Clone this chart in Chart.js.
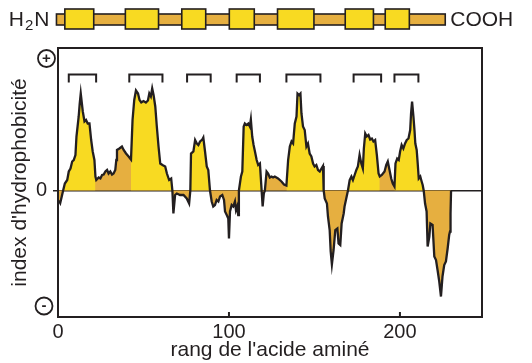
<!DOCTYPE html>
<html>
<head>
<meta charset="utf-8">
<script src="https://cdn.jsdelivr.net/npm/chart.js@4.4.0/dist/chart.umd.min.js"></script>
<style>
  html, body { margin: 0; padding: 0; background: #fff; }
  #wrap { width: 532px; height: 363px; }
</style>
</head>
<body>
<div id="wrap"><canvas id="hydroChart"></canvas></div>
<script>
// amino acid rank (x) and hydrophobicity index (y)
const residue = [
	0.5, 1.3, 2.2, 3.0, 4.0, 5.4, 6.3, 7.3, 8.3, 9.2, 10.2, 10.8, 12.1, 12.7, 13.3, 14.5, 15.5, 16.4, 17.4, 18.4,
	19.4, 20.3, 21.3, 21.9, 22.4, 23.8, 24.8, 25.8, 26.7, 27.7, 28.7, 29.6, 30.6, 31.6, 32.5, 33.5, 34.1, 34.5, 35.9, 37.4,
	38.4, 39.8, 41.3, 42.7, 43.6, 44.6, 45.6, 46.8, 47.7, 48.7, 50.0, 51.4, 52.6, 53.4, 54.3, 55.1, 55.9, 56.9, 57.8, 58.8,
	59.8, 61.1, 62.7, 63.7, 65.0, 66.2, 66.9, 67.5, 68.5, 69.5, 71.4, 73.4, 75.3, 76.7, 77.4, 77.8, 79.2, 80.2, 81.2, 82.1,
	83.1, 84.4, 85.0, 86.0, 87.0, 87.9, 88.9, 89.9, 90.8, 91.8, 92.8, 93.8, 94.8, 96.1, 97.1, 97.7, 98.7, 99.6, 100.0, 100.6,
	101.6, 102.5, 103.5, 104.1, 104.8, 105.4, 105.8, 107.0, 107.8, 108.6, 109.3, 110.3, 111.3, 112.2, 112.8, 113.6, 114.4, 115.2, 116.2, 117.1,
	118.1, 119.1, 119.7, 120.4, 121.0, 122.0, 122.9, 123.9, 124.9, 125.8, 126.8, 128.7, 130.7, 132.2, 133.6, 134.6, 135.6, 136.6, 137.5, 138.5,
	139.5, 140.1, 141.0, 141.8, 142.4, 143.3, 144.3, 145.3, 146.2, 147.2, 148.2, 149.2, 150.1, 151.1, 152.1, 153.1, 154.1, 155.0, 155.4, 156.0,
	157.3, 157.9, 158.9, 159.5, 160.2, 161.2, 162.2, 163.4, 164.1, 165.1, 165.9, 167.1, 167.6, 168.6, 169.6, 170.6, 171.6, 172.5, 173.5, 174.5,
	175.4, 176.4, 177.4, 178.3, 178.9, 179.7, 180.6, 181.6, 182.6, 183.6, 184.5, 185.5, 186.5, 187.5, 188.2, 189.4, 191.0, 192.0, 192.9, 193.9,
	194.9, 195.8, 196.8, 197.4, 198.4, 199.3, 200.1, 201.0, 202.0, 203.0, 204.0, 205.0, 206.0, 206.5, 207.1, 207.9, 208.5, 209.0, 209.8, 210.4,
	211.0, 211.9, 212.7, 213.3, 213.9, 214.7, 215.6, 216.2, 217.2, 217.8, 219.1, 220.1, 221.1, 222.0, 223.0, 224.0, 224.9, 225.9, 226.9, 227.9,
	228.8, 229.3, 229.6, 229.9
];
const hydro = [
	-0.20, -0.25, -0.12, 0.00, 0.14, 0.21, 0.38, 0.44, 0.58, 0.61, 0.71, 1.08, 1.48, 1.74, 1.94, 1.58, 1.38, 1.41, 1.34, 1.34,
	1.01, 0.78, 0.61, 0.28, 0.21, 0.26, 0.24, 0.31, 0.32, 0.38, 0.41, 0.34, 0.38, 0.32, 0.34, 0.41, 0.61, 0.81, 0.84, 0.88,
	0.81, 0.74, 0.68, 0.62, 1.41, 1.81, 2.00, 1.94, 1.81, 1.76, 1.79, 1.76, 1.80, 1.94, 1.88, 2.04, 1.91, 1.68, 1.28, 0.88,
	0.54, 0.51, 0.48, 0.34, 0.21, 0.24, 0.00, -0.46, -0.09, -0.06, -0.09, -0.09, -0.16, -0.26, 0.00, 0.74, 0.78, 1.01, 0.94, 0.91,
	0.98, 1.02, 1.06, 0.78, 0.48, 0.41, 0.00, -0.22, -0.32, -0.29, -0.19, -0.22, -0.12, -0.09, -0.19, -0.42, -0.49, -0.56, -0.96, -0.42,
	-0.29, -0.32, -0.22, -0.39, -0.32, -0.49, 0.00, 0.28, 0.38, 1.28, 1.34, 1.31, 1.34, 1.28, 1.42, 1.08, 0.91, 0.78, 0.61, 0.51,
	0.54, 0.00, -0.32, -0.06, 0.00, 0.38, 0.34, 0.26, 0.28, 0.26, 0.28, 0.24, 0.18, 0.12, 0.10, 0.61, 0.88, 0.98, 0.94, 1.34,
	1.48, 1.94, 1.91, 1.94, 1.54, 1.28, 1.21, 0.88, 0.94, 0.74, 0.68, 0.54, 0.48, 0.51, 0.41, 0.38, 0.44, 0.49, 0.00, -0.16,
	-0.26, -0.52, -0.79, -1.22, -1.48, -1.19, -0.79, -0.76, -1.06, -1.09, -0.66, -0.46, -0.32, -0.16, 0.00, 0.21, 0.28, 0.21, 0.31, 0.41,
	0.48, 0.71, 0.54, 0.44, 0.84, 1.14, 1.08, 1.11, 1.02, 1.04, 0.98, 1.01, 0.71, 0.34, 0.28, 0.31, 0.38, 0.51, 0.58, 0.41,
	0.24, 0.14, 0.08, 0.54, 0.64, 0.61, 0.78, 0.91, 0.84, 0.94, 1.01, 1.04, 1.21, 1.54, 1.78, 1.48, 1.21, 0.94, 0.81, 0.54,
	0.24, 0.28, 0.18, 0.11, 0.00, -0.26, -0.42, -1.12, -0.92, -0.66, -0.69, -1.32, -1.39, -1.59, -1.82, -2.12, -1.72, -1.49, -1.42, -1.16,
	-0.89, -0.82, -0.46, 0.00
];
// stretches of the profile filled yellow (hydrophobic segments)
const helixFill = [[3.0, 21.9], [42.7, 66.9], [77.4, 88.9], [105.8, 119.1], [133.6, 155.4], [169.6, 188.2], [196.8, 213.9]];
// brackets drawn over the peaks
const helixBrackets = [[6.3, 22.3], [41.7, 61.1], [75.5, 89.3], [104.5, 118.1], [133.6, 153.5], [172.9, 189.0], [196.8, 210.8]];
// protein schematic: chain and the yellow boxes, in residues
const chainSpan = [-0.9, 226.5];
const helixBoxes = [[4.0, 20.9], [39.4, 58.8], [72.4, 86.4], [100.2, 114.8], [128.4, 149.7], [168.0, 184.5], [191.4, 205.5]];
// tick labels
const xTicks = [0, 100, 200];
const yTicks = [0];

const INK = '#231f20';
const YELLOW = '#f8da22';
const ORANGE = '#e6af40';
const FONT = '"Liberation Sans", Arial, sans-serif';

const points = residue.map((r, i) => ({x: r, y: hydro[i]}));
const inHelix = r => helixFill.some(([a, b]) => r >= a && r <= b);
const helixPoints = residue.map((r, i) => ({x: r, y: inHelix(r) ? hydro[i] : null}));

// frame, brackets, protein schematic, circled signs
const decorations = {
	id: 'decorations',
	afterDraw(chart) {
		const {ctx, chartArea: a, scales: {x, y}} = chart;
		ctx.save();
		ctx.strokeStyle = INK;
		ctx.lineWidth = 2;
		ctx.strokeRect(a.left, a.top, a.right - a.left, a.bottom - a.top);

		// inward ticks on the x axis
		ctx.beginPath();
		xTicks.forEach(v => {
			const px = x.getPixelForValue(v);
			ctx.moveTo(px, a.bottom);
			ctx.lineTo(px, a.bottom - 5);
		});
		ctx.stroke();

		// brackets
		const by = y.getPixelForValue(2.32), bl = y.getPixelForValue(2.16);
		ctx.beginPath();
		helixBrackets.forEach(([s, e]) => {
			const x0 = x.getPixelForValue(s), x1 = x.getPixelForValue(e);
			ctx.moveTo(x0, bl);
			ctx.lineTo(x0, by);
			ctx.lineTo(x1, by);
			ctx.lineTo(x1, bl);
		});
		ctx.stroke();

		// protein schematic
		ctx.lineWidth = 1.6;
		const c0 = x.getPixelForValue(chainSpan[0]), c1 = x.getPixelForValue(chainSpan[1]);
		const barTop = a.top - 34, barH = 11;
		ctx.fillStyle = ORANGE;
		ctx.fillRect(c0, barTop, c1 - c0, barH);
		ctx.strokeRect(c0, barTop, c1 - c0, barH);
		helixBoxes.forEach(([s, e]) => {
			const x0 = x.getPixelForValue(s), x1 = x.getPixelForValue(e);
			ctx.fillStyle = YELLOW;
			ctx.fillRect(x0, a.top - 39, x1 - x0, 20);
			ctx.strokeRect(x0, a.top - 39, x1 - x0, 20);
		});

		ctx.fillStyle = INK;
		ctx.textBaseline = 'alphabetic';
		const base = a.top - 22;
		ctx.font = '21px ' + FONT;
		ctx.textAlign = 'left';
		ctx.fillText('COOH', c1 + 5, base);
		ctx.textAlign = 'right';
		let rx = c0 - 7;
		ctx.fillText('N', rx, base);
		rx -= ctx.measureText('N').width + 1;
		ctx.font = '15px ' + FONT;
		ctx.fillText('2', rx, base + 4);
		rx -= ctx.measureText('2').width + 1;
		ctx.font = '21px ' + FONT;
		ctx.fillText('H', rx, base);

		// circled + and -
		ctx.lineWidth = 1.8;
		ctx.textAlign = 'center';
		ctx.textBaseline = 'middle';
		ctx.font = 'bold 15px ' + FONT;
		[['+', a.left - 11.5, a.top + 10.5], ['-', a.left - 14, a.bottom - 11]].forEach(([t, cx, cy]) => {
			ctx.beginPath();
			ctx.arc(cx, cy, 8.5, 0, Math.PI * 2);
			ctx.stroke();
			ctx.fillText(t, cx, cy);
		});
		ctx.restore();
	}
};

new Chart(document.getElementById('hydroChart'), {
	type: 'line',
	data: {
		datasets: [
			{
				// orange fill under the whole profile
				data: points,
				borderColor: 'rgba(0,0,0,0)',
				borderWidth: 0,
				backgroundColor: ORANGE,
				fill: 'origin',
				pointRadius: 0,
				tension: 0,
				order: 3
			},
			{
				// yellow fill over the hydrophobic segments
				data: helixPoints,
				borderColor: 'rgba(0,0,0,0)',
				borderWidth: 0,
				fill: {target: 'origin', above: YELLOW, below: 'rgba(0,0,0,0)'},
				spanGaps: false,
				pointRadius: 0,
				tension: 0,
				order: 2
			},
			{
				// black outline
				data: points,
				borderColor: INK,
				borderWidth: 2.3,
				borderJoinStyle: 'miter',
				fill: false,
				pointRadius: 0,
				tension: 0,
				order: 1
			}
		]
	},
	options: {
		responsive: true,
		maintainAspectRatio: false,
		animation: false,
		layout: {padding: {top: 48, right: 50, bottom: 0, left: 0}},
		plugins: {
			legend: {display: false},
			tooltip: {enabled: false}
		},
		scales: {
			x: {
				type: 'linear',
				min: 0,
				max: 248,
				afterBuildTicks: s => { s.ticks = xTicks.map(v => ({value: v})); },
				afterFit: s => { s.height = 46; },
				grid: {display: false, drawTicks: false},
				border: {display: false},
				ticks: {color: INK, font: {family: FONT, size: 20}, padding: 3, maxRotation: 0},
				title: {display: true, text: "rang de l'acide aminé", color: INK, font: {family: FONT, size: 21}, padding: {top: 0, bottom: 0}}
			},
			y: {
				min: -2.53,
				max: 2.85,
				z: 1,
				afterBuildTicks: s => { s.ticks = yTicks.map(v => ({value: v})); },
				afterFit: s => { s.width = 58; },
				grid: {color: INK, lineWidth: 1.5, tickLength: 5},
				border: {display: false},
				ticks: {color: INK, font: {family: FONT, size: 20}, padding: 6},
				title: {display: true, text: "index d'hydrophobicité", color: INK, font: {family: FONT, size: 21}, padding: {top: 8, bottom: 0}}
			}
		}
	},
	plugins: [decorations]
});
</script>
</body>
</html>
